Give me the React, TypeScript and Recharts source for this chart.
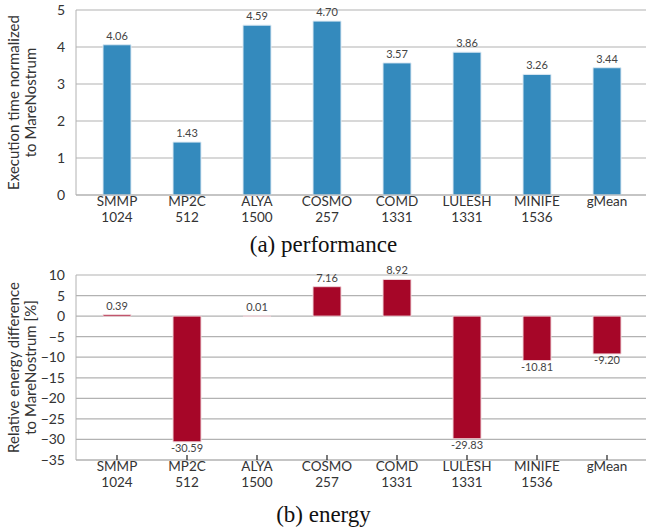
import { BarChart, Bar, XAxis, YAxis, CartesianGrid, LabelList } from 'recharts';

const apps = ['SMMP', 'MP2C', 'ALYA', 'COSMO', 'COMD', 'LULESH', 'MINIFE', 'gMean'];
const cores = ['1024', '512', '1500', '257', '1331', '1331', '1536', ''];
const execTime = [4.06, 1.43, 4.59, 4.7, 3.57, 3.86, 3.26, 3.44];
const energyDiff = [0.39, -30.59, 0.01, 7.16, 8.92, -29.83, -10.81, -9.2];
const perfTicks = [0, 1, 2, 3, 4, 5];
const energyTicks = [-35, -30, -25, -20, -15, -10, -5, 0, 5, 10];

const perfData = apps.map((app, i) => ({ app, value: execTime[i] }));
const energyData = apps.map((app, i) => ({ app, value: energyDiff[i] }));

const FONT = 'Lato, "Open Sans", sans-serif';
const TEXT = '#333';
const GRID = '#b2b2b2';

const makeTick = (withMark: boolean) => (props: any) => {
  const { x, y, payload } = props;
  const idx = apps.indexOf(payload.value);
  return (
    <g>
      {withMark && <line x1={x} x2={x} y1={y - 5} y2={y} stroke="#222" strokeWidth={1.2} />}
      <text x={x} y={y + 11} textAnchor="middle" fill={TEXT} fontSize={13.5} fontFamily={FONT}>
        {payload.value}
      </text>
      <text x={x} y={y + 27} textAnchor="middle" fill={TEXT} fontSize={13.5} fontFamily={FONT}>
        {cores[idx]}
      </text>
    </g>
  );
};

const yLabel = (line1: string, line2: string) => (props: any) => {
  const { viewBox } = props;
  const cy = viewBox.y + viewBox.height / 2;
  return (
    <g>
      <text x={19} y={cy} transform={`rotate(-90 19 ${cy})`} textAnchor="middle" fill={TEXT} fontSize={15} fontFamily={FONT}>
        {line1}
      </text>
      <text x={36} y={cy} transform={`rotate(-90 36 ${cy})`} textAnchor="middle" fill={TEXT} fontSize={15} fontFamily={FONT}>
        {line2}
      </text>
    </g>
  );
};

const valueLabel = (props: any) => {
  const { x, y, width, height, value } = props;
  const top = Math.min(y, y + height);
  const bottom = Math.max(y, y + height);
  const cx = x + width / 2;
  const ty = value >= 0 ? top - 5 : bottom + 10;
  return (
    <text x={cx} y={ty} textAnchor="middle" fill="#444" fontSize={11} fontFamily={FONT}>
      {value.toFixed(2)}
    </text>
  );
};

const caption = {
  position: 'absolute' as const,
  left: 0,
  width: 647,
  textAlign: 'center' as const,
  fontFamily: '"Liberation Serif", "DejaVu Serif", serif',
  fontSize: 23,
  lineHeight: '26px',
  color: '#111',
};

export default function App() {
  return (
    <div style={{ position: 'absolute', left: 0, top: 0, width: 647, height: 529, background: '#fff' }}>
      <div style={{ position: 'absolute', left: 0, top: 0 }}>
        <BarChart width={647} height={230} data={perfData} margin={{ top: 10, right: 1, bottom: 0, left: 0 }}>
          <CartesianGrid vertical={false} stroke={GRID} strokeWidth={1.2} />
          <XAxis
            dataKey="app"
            height={35}
            axisLine={{ stroke: GRID }}
            tickLine={false}
            tickSize={0}
            tickMargin={0}
            interval={0}
            padding={{ left: 6, right: 4 }}
            tick={makeTick(false)}
          />
          <YAxis
            width={76}
            domain={[0, 5]}
            ticks={perfTicks}
            interval={0}
            axisLine={{ stroke: GRID }}
            tickLine={false}
            tickMargin={5}
            tick={{ fill: TEXT, fontSize: 14, fontFamily: FONT }}
            label={yLabel('Execution time normalized', 'to MareNostrum')}
          />
          <Bar dataKey="value" fill="#348abd" stroke="#dce9f3" strokeWidth={1} barSize={28} isAnimationActive={false}>
            <LabelList dataKey="value" content={valueLabel} />
          </Bar>
        </BarChart>
      </div>
      <div style={{ ...caption, top: 232 }}>(a) performance</div>
      <div style={{ position: 'absolute', left: 0, top: 260 }}>
        <BarChart width={647} height={240} data={energyData} margin={{ top: 15, right: 1, bottom: 0, left: 0 }}>
          <CartesianGrid vertical={false} stroke={GRID} strokeWidth={1.2} />
          <XAxis
            dataKey="app"
            height={40}
            axisLine={{ stroke: GRID }}
            tickLine={false}
            tickSize={0}
            tickMargin={0}
            interval={0}
            padding={{ left: 6, right: 4 }}
            tick={makeTick(true)}
          />
          <YAxis
            width={76}
            domain={[-35, 10]}
            ticks={energyTicks}
            interval={0}
            axisLine={{ stroke: GRID }}
            tickLine={false}
            tickMargin={5}
            tickFormatter={(v: number) => String(v).replace('-', '\u2212')}
            tick={{ fill: TEXT, fontSize: 14, fontFamily: FONT }}
            label={yLabel('Relative energy difference', 'to MareNostrum [%]')}
          />
          <Bar dataKey="value" fill="#a60628" stroke="#f0d5da" strokeWidth={1} barSize={28} isAnimationActive={false}>
            <LabelList dataKey="value" content={valueLabel} />
          </Bar>
        </BarChart>
      </div>
      <div style={{ ...caption, top: 502 }}>(b) energy</div>
    </div>
  );
}
